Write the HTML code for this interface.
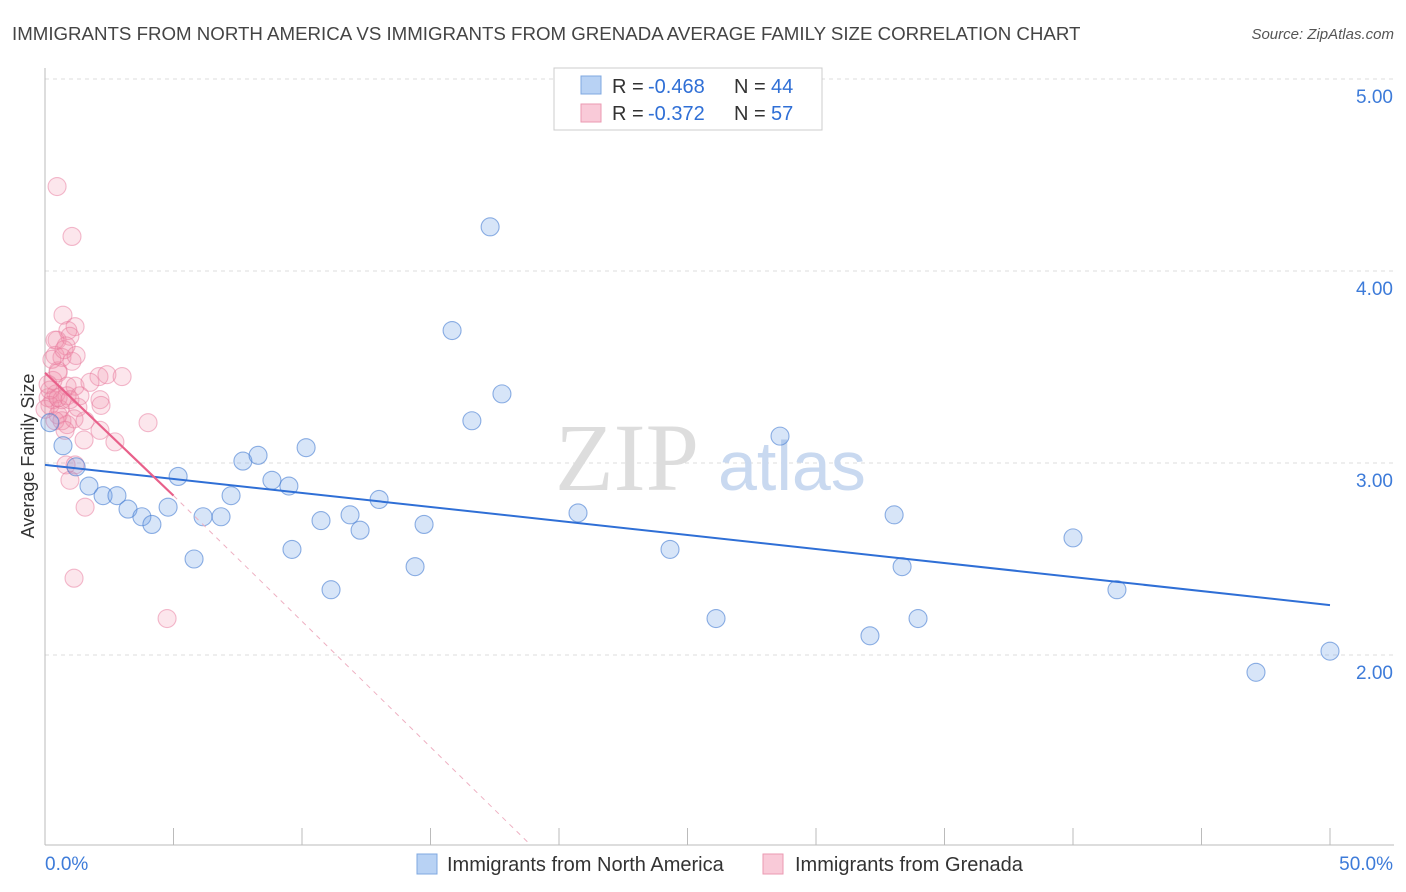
<!DOCTYPE html>
<html><head><meta charset="utf-8"><style>
body{margin:0;background:#fff;font-family:"Liberation Sans",sans-serif;overflow:hidden}
</style></head><body>
<svg id="chart" width="1406" height="892" xmlns="http://www.w3.org/2000/svg" font-family="Liberation Sans, sans-serif" style="display:block">
<text x="12" y="40" font-size="18.7" fill="#444">IMMIGRANTS FROM NORTH AMERICA VS IMMIGRANTS FROM GRENADA AVERAGE FAMILY SIZE CORRELATION CHART</text>
<text x="1394" y="39" font-size="15" fill="#555" font-style="italic" text-anchor="end">Source: ZipAtlas.com</text>
<text transform="translate(34,456) rotate(-90)" font-size="18" fill="#333" text-anchor="middle">Average Family Size</text>
<g id="grid"></g><g id="axes"></g>
<text x="555" y="490" font-size="96" fill="#ddd" font-family="Liberation Serif, serif">ZIP</text>
<text x="718" y="490" font-size="70" fill="#c9d9f0">atlas</text>
<g id="marks"></g>
<g>
<rect x="554" y="68" width="268" height="62" fill="#fff" stroke="#ccc"/>
<rect x="581" y="76" width="20" height="18" fill="#b8d2f4" stroke="#7fa8e0"/>
<rect x="581" y="104" width="20" height="18" fill="#f9cad8" stroke="#eb9ab2"/>
<text x="612" y="93" font-size="20" fill="#333">R =</text>
<text x="648" y="93" font-size="20" fill="#2f6fd6">-0.468</text>
<text x="734" y="93" font-size="20" fill="#333">N =</text>
<text x="771" y="93" font-size="20" fill="#2f6fd6">44</text>
<text x="612" y="120" font-size="20" fill="#333">R =</text>
<text x="648" y="120" font-size="20" fill="#2f6fd6">-0.372</text>
<text x="734" y="120" font-size="20" fill="#333">N =</text>
<text x="771" y="120" font-size="20" fill="#2f6fd6">57</text>
</g>
<g>
<rect x="417" y="854" width="20" height="20" fill="#b8d2f4" stroke="#7fa8e0"/>
<text x="447" y="871" font-size="20" fill="#333">Immigrants from North America</text>
<rect x="763" y="854" width="20" height="20" fill="#f9cad8" stroke="#eb9ab2"/>
<text x="795" y="871" font-size="20" fill="#333">Immigrants from Grenada</text>
</g>
</svg>
<script>
const yTicks=[2,3,4,5];
const yTickLabels=["2.00","3.00","4.00","5.00"];
const xTicks=[0,5,10,15,20,25,30,35,40,45,50];
const xEndLabels=["0.0%","50.0%"];
const blueX=[0.70,0.19,1.21,1.71,2.26,2.80,3.23,3.77,4.16,4.79,5.18,5.80,6.15,6.85,7.24,7.70,8.29,8.83,9.49,9.61,10.16,10.74,11.13,11.87,12.26,13.00,14.40,14.75,15.84,16.61,17.32,17.78,20.74,24.32,26.11,28.60,32.10,33.04,33.35,33.97,40.00,41.71,47.12,50.00];
const blueY=[3.09,3.21,2.98,2.88,2.83,2.83,2.76,2.72,2.68,2.77,2.93,2.50,2.72,2.72,2.83,3.01,3.04,2.91,2.88,2.55,3.08,2.70,2.34,2.73,2.65,2.81,2.46,2.68,3.69,3.22,4.23,3.36,2.74,2.55,2.19,3.14,2.10,2.73,2.46,2.19,2.61,2.34,1.91,2.02];
const pinkX=[0.47,1.05,0.70,1.17,0.89,0.97,0.47,0.82,0.39,0.66,1.05,0.51,0.31,2.10,2.41,3.00,0.86,1.17,0.43,0.86,0.12,0.31,2.14,2.18,1.28,0.58,0.19,0.51,0.86,0.66,1.13,2.14,4.01,1.52,2.72,0.82,1.17,0.97,1.56,1.13,4.75,0.27,0.39,0.66,0.39,1.75,0.19,0.74,1.21,0.0,0.12,0.51,0.97,1.36,0.78,0.51,1.56];
const pinkY=[4.44,4.18,3.77,3.71,3.69,3.66,3.64,3.61,3.56,3.55,3.53,3.48,3.43,3.45,3.46,3.45,3.40,3.40,3.36,3.35,3.34,3.33,3.33,3.30,3.29,3.28,3.30,3.25,3.20,3.22,3.23,3.17,3.21,3.12,3.11,2.99,2.99,2.91,2.77,2.40,2.19,3.54,3.64,3.33,3.22,3.42,3.38,3.59,3.56,3.28,3.41,3.34,3.33,3.35,3.17,3.47,3.22];
const blueTrend=[[0,2.99],[50,2.26]];
const pinkTrend=[[0,3.47],[5,2.83]];
const pinkDash=[[5,2.83],[18.9,1.01]];
const X=v=>45+v*25.7, Y=v=>463-(v-3)*192;
const NS="http://www.w3.org/2000/svg";
function mk(parent,tag,attrs){const e=document.createElementNS(NS,tag);for(const k in attrs)e.setAttribute(k,attrs[k]);document.getElementById(parent).appendChild(e);return e;}
yTicks.forEach((t,i)=>{
 const l=mk('grid','line',{x1:45,x2:1394,y1:Y(t),y2:Y(t),stroke:'#ddd','stroke-dasharray':'4,4'});
 
 
 const tx=mk('grid','text',{x:1393,y:Y(t)+24,'font-size':19,fill:'#3d7bd9','text-anchor':'end'});tx.textContent=yTickLabels[i];
 
 
});
const ya=mk('axes','line',{x1:45,x2:45,y1:68,y2:845,stroke:'#bbb'});


const xa=mk('axes','line',{x1:45,x2:1394,y1:845,y2:845,stroke:'#bbb'});


xTicks.forEach(t=>{const l=mk('axes','line',{x1:X(t),x2:X(t),y1:828,y2:845,stroke:'#bbb'});
 
 });
[[0,'start'],[50,'end']].forEach((p,i)=>{const t=mk('axes','text',{x:i?1393:45,y:870,'font-size':19,fill:'#3d7bd9','text-anchor':p[1]});t.textContent=xEndLabels[i];
 
 });
pinkX.forEach((x,i)=>{const c=mk('marks','circle',{cx:X(x),cy:Y(pinkY[i]),r:9,fill:'rgba(242,140,170,0.22)',stroke:'rgba(232,120,155,0.5)','stroke-width':1.1});
 
 });
blueX.forEach((x,i)=>{const c=mk('marks','circle',{cx:X(x),cy:Y(blueY[i]),r:9,fill:'rgba(110,160,230,0.28)',stroke:'rgba(70,125,210,0.6)','stroke-width':1.1});
 
 });
const bl=mk('marks','line',{x1:X(blueTrend[0][0]),y1:Y(blueTrend[0][1]),x2:X(blueTrend[1][0]),y2:Y(blueTrend[1][1]),stroke:'#2f6fd6','stroke-width':2});


const pl=mk('marks','line',{x1:X(pinkTrend[0][0]),y1:Y(pinkTrend[0][1]),x2:X(pinkTrend[1][0]),y2:Y(pinkTrend[1][1]),stroke:'#e8608a','stroke-width':2.2});


const pd=mk('marks','line',{x1:X(pinkDash[0][0]),y1:Y(pinkDash[0][1]),x2:X(pinkDash[1][0]),y2:Y(pinkDash[1][1]),stroke:'#eeb0c2','stroke-width':1,'stroke-dasharray':'5,5'});


</script>
</body></html>
